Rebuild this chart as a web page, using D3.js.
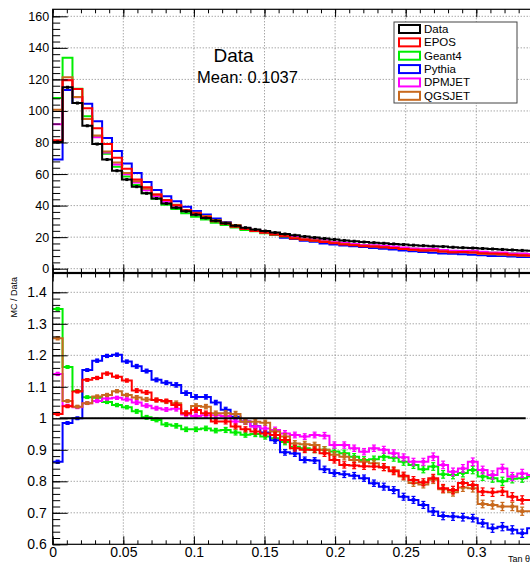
<!DOCTYPE html>
<html>
<head>
<meta charset="utf-8">
<script src="https://cdn.jsdelivr.net/npm/d3@7"></script>
<style>
  body { margin: 0; background: #fff; overflow: hidden; }
  svg { display: block; font-family: "Liberation Sans", Arial, Helvetica, sans-serif; }
</style>
</head>
<body>
<div id="chart"></div>
<script>
"use strict"

// binning of the histograms: 50 bins of 0.007 between 0 and 0.35
var nBins = 50;
var binWidth = 0.007;

// axis ticks and labels
var xTicks = [0, 0.05, 0.1, 0.15, 0.2, 0.25, 0.3, 0.35];
var xTickLabels = ["0", "0.05", "0.1", "0.15", "0.2", "0.25", "0.3", ""];
var topTicks = [0, 20, 40, 60, 80, 100, 120, 140, 160];
var ratioTicks = [0.6, 0.7, 0.8, 0.9, 1.0, 1.1, 1.2, 1.3, 1.4];
var ratioTickLabels = ["0.6", "0.7", "0.8", "0.9", "1", "1.1", "1.2", "1.3", "1.4"];

// legend
var seriesNames = ["Data", "EPOS", "Geant4", "Pythia", "DPMJET", "QGSJET"];
var seriesColors = ["#000000", "#ff0000", "#00ee00", "#0000ff", "#ff00ff", "#c8691e"];

// upper panel: entries per bin
var dataCounts = [80.3, 115, 105, 90.6, 79, 69.2, 62.1, 56.5, 52, 47.8, 44.5, 41.3, 38.7, 36.4, 34.2, 32.2, 30.4, 28.8, 27.3, 26,
    24.9, 23.9, 22.9, 22, 21.2, 20.4, 19.7, 19.1, 18.5, 17.9, 17.4, 16.9, 16.5, 16.1, 15.7, 15.3, 14.9, 14.6, 14.3, 14,
    13.6, 13.3, 13.1, 12.8, 12.5, 12.2, 11.9, 11.6, 11.3, 11.1];
var eposCounts = [81.4, 119.4, 113.9, 101.7, 89.1, 79.0, 70.3, 63.3, 56.6, 51.7, 47.1, 43.6, 40.3, 37.0, 35.1, 32.7, 30.1, 28.5, 26.6, 25.1,
    23.9, 22.8, 21.7, 20.5, 19.2, 18.4, 17.7, 17.0, 16.1, 15.3, 14.8, 14.3, 14.0, 13.6, 13.1, 12.5, 12.0, 11.6, 11.6, 10.9,
    10.5, 10.6, 10.3, 9.8, 9.6, 9.4, 8.9, 8.6, 8.4, 8.2];
var geantCounts = [108.2, 133.7, 114.1, 96.7, 84.1, 72.8, 64.7, 58.5, 53.1, 47.9, 44.3, 40.5, 37.8, 35.1, 33.0, 31.2, 29.2, 27.7, 26.1, 24.6,
    23.7, 22.5, 21.5, 20.4, 19.3, 18.5, 17.7, 17.2, 16.6, 15.9, 15.3, 14.7, 14.4, 14.1, 13.7, 13.2, 12.7, 12.2, 12.1, 11.5,
    11.2, 11.0, 11.0, 10.4, 10.1, 9.8, 9.6, 9.4, 9.2, 9.0];
var pythiaCounts = [69.2, 113.3, 105.0, 104.5, 93.5, 82.9, 74.6, 66.7, 60.6, 55.0, 49.9, 46.0, 42.8, 39.3, 36.5, 34.4, 31.9, 29.6, 27.4, 25.7,
    24.3, 22.8, 21.3, 19.6, 18.8, 17.7, 17.1, 16.0, 15.3, 14.7, 14.2, 13.7, 13.1, 12.6, 12.1, 11.5, 11.0, 10.6, 10.1, 9.7,
    9.4, 9.1, 8.9, 8.5, 8.1, 8.0, 7.7, 7.4, 7.4, 7.2];
var dpmjetCounts = [91.6, 119.6, 108.7, 94.9, 83.3, 73.6, 66.1, 59.9, 54.6, 49.7, 45.9, 42.5, 39.9, 36.8, 34.4, 32.5, 30.7, 29.0, 27.0, 25.7,
    24.3, 23.1, 22.1, 20.9, 20.1, 19.2, 18.7, 18.0, 16.9, 16.4, 15.7, 15.1, 14.9, 14.5, 14.0, 13.4, 12.8, 12.6, 12.6, 11.9,
    11.3, 11.2, 11.3, 10.7, 10.3, 10.3, 9.7, 9.6, 9.3, 9.1];
var qgsjetCounts = [100.7, 121.3, 108.9, 94.9, 84.5, 74.3, 67.4, 60.7, 55.4, 50.7, 47.1, 43.5, 40.6, 37.0, 35.5, 33.4, 30.9, 29.3, 27.7, 25.7,
    24.6, 23.6, 21.9, 20.7, 19.5, 18.7, 18.0, 17.2, 16.4, 15.7, 15.1, 14.6, 14.1, 13.6, 13.1, 12.5, 11.8, 11.5, 11.5, 10.9,
    10.4, 10.4, 10.2, 9.3, 9.1, 8.8, 8.6, 8.2, 8.0, 7.9];

// lower panel: MC / Data per bin
var eposRatio = [1.014, 1.038, 1.085, 1.122, 1.128, 1.142, 1.132, 1.12, 1.088, 1.082, 1.058, 1.055, 1.042, 1.016, 1.026, 1.016, 0.99, 0.99, 0.974, 0.965,
    0.958, 0.952, 0.947, 0.931, 0.905, 0.9, 0.9, 0.889, 0.868, 0.852, 0.85, 0.848, 0.847, 0.845, 0.832, 0.818, 0.804, 0.797, 0.81, 0.778,
    0.772, 0.795, 0.788, 0.767, 0.765, 0.768, 0.751, 0.741, 0.741, 0.74];
var geantRatio = [1.347, 1.163, 1.087, 1.067, 1.065, 1.052, 1.042, 1.035, 1.022, 1.003, 0.995, 0.98, 0.976, 0.965, 0.965, 0.968, 0.961, 0.963, 0.955, 0.948,
    0.95, 0.942, 0.937, 0.925, 0.91, 0.905, 0.9, 0.9, 0.895, 0.889, 0.878, 0.868, 0.87, 0.878, 0.875, 0.862, 0.852, 0.838, 0.847, 0.822,
    0.82, 0.826, 0.836, 0.815, 0.81, 0.8, 0.808, 0.81, 0.815, 0.815];
var pythiaRatio = [0.862, 0.985, 1.0, 1.153, 1.183, 1.198, 1.202, 1.18, 1.165, 1.15, 1.122, 1.113, 1.106, 1.08, 1.068, 1.068, 1.05, 1.027, 1.005, 0.99,
    0.975, 0.955, 0.93, 0.892, 0.888, 0.868, 0.866, 0.838, 0.826, 0.822, 0.818, 0.81, 0.794, 0.783, 0.772, 0.751, 0.741, 0.725, 0.704, 0.69,
    0.688, 0.686, 0.683, 0.667, 0.651, 0.656, 0.646, 0.635, 0.651, 0.65];
var dpmjetRatio = [1.141, 1.04, 1.035, 1.048, 1.055, 1.063, 1.065, 1.06, 1.05, 1.04, 1.032, 1.028, 1.03, 1.012, 1.007, 1.01, 1.01, 1.007, 0.99, 0.99,
    0.974, 0.968, 0.963, 0.952, 0.947, 0.942, 0.947, 0.945, 0.915, 0.915, 0.905, 0.894, 0.905, 0.9, 0.889, 0.876, 0.862, 0.862, 0.878, 0.852,
    0.83, 0.841, 0.862, 0.836, 0.82, 0.841, 0.815, 0.825, 0.82, 0.82];
var qgsjetRatio = [1.254, 1.055, 1.037, 1.048, 1.069, 1.074, 1.086, 1.074, 1.066, 1.06, 1.058, 1.053, 1.048, 1.016, 1.039, 1.037, 1.016, 1.016, 1.014, 0.989,
    0.989, 0.986, 0.958, 0.942, 0.92, 0.918, 0.915, 0.9, 0.884, 0.878, 0.868, 0.862, 0.857, 0.845, 0.835, 0.815, 0.795, 0.79, 0.805, 0.775,
    0.765, 0.78, 0.778, 0.728, 0.725, 0.72, 0.72, 0.705, 0.705, 0.71];
// statistical error on the ratio, per bin
var ratioErr = [0.005, 0.004, 0.004, 0.004, 0.005, 0.005, 0.005, 0.005, 0.006, 0.006, 0.006, 0.006, 0.007, 0.007, 0.007, 0.007, 0.007, 0.008, 0.008, 0.008,
    0.008, 0.008, 0.009, 0.009, 0.009, 0.009, 0.009, 0.01, 0.01, 0.01, 0.01, 0.01, 0.01, 0.011, 0.011, 0.011, 0.011, 0.011, 0.012, 0.012,
    0.012, 0.012, 0.012, 0.012, 0.013, 0.013, 0.013, 0.013, 0.013, 0.013];

var dataMean = "0.1037";

// set up the canvas
var width = 530;
var height = 564;
var svg = d3.select("#chart")
    .append("svg")
    .attr("width", width)
    .attr("height", height);
svg.append("rect").attr("width", width).attr("height", height).attr("fill", "#fff");

// scales (frame runs past the right edge of the picture)
var x = d3.scaleLinear().domain([0, 0.35]).range([52.7, 546.9]);
var yTop = d3.scaleLinear().domain([0, 160]).range([268.7, 16.3]);
var yRatio = d3.scaleLinear().domain([0.6, 1.4]).range([544.3, 292.3]);
var topFrame = {y0: 9.3, y1: 272.5};
var ratioFrame = {y0: 273.5, y1: 544.3};

var gridColor = "#808080";

function drawGrid(yScale, yValues, frame) {
    var g = svg.append("g");
    g.selectAll("line.gx")
        .data(xTicks.slice(1))
        .enter()
        .append("line")
        .attr("x1", function(d) { return x(d); })
        .attr("x2", function(d) { return x(d); })
        .attr("y1", frame.y0)
        .attr("y2", frame.y1)
        .attr("stroke", gridColor)
        .attr("stroke-dasharray", "1,2");
    g.selectAll("line.gy")
        .data(yValues)
        .enter()
        .append("line")
        .attr("x1", x(0))
        .attr("x2", x(0.35))
        .attr("y1", function(d) { return yScale(d); })
        .attr("y2", function(d) { return yScale(d); })
        .attr("stroke", gridColor)
        .attr("stroke-dasharray", "1,2");
}

// histogram outline as a step line
function stepPath(yScale, values) {
    var pts = values.map(function(v, i) { return [i * binWidth, v]; });
    pts.push([nBins * binWidth, values[nBins - 1]]);
    return d3.line()
        .x(function(p) { return x(p[0]); })
        .y(function(p) { return yScale(p[1]); })
        .curve(d3.curveStepAfter)(pts);
}

function drawFrame(yScale, frame, majorY, minorY, labels, fontSize, pad) {
    var g = svg.append("g").attr("fill", "none");
    // x ticks at bottom (pointing up) and top (pointing down)
    var minorX = d3.range(0, 36).map(function(i) { return i * 0.01; });
    g.append("g")
        .attr("transform", "translate(0," + frame.y1 + ")")
        .call(d3.axisBottom(x).tickValues(minorX).tickSize(-4).tickFormat(""));
    g.append("g")
        .attr("transform", "translate(0," + frame.y1 + ")")
        .call(d3.axisBottom(x).tickValues(xTicks).tickSize(-8).tickFormat(""));
    g.append("g")
        .attr("transform", "translate(0," + frame.y0 + ")")
        .call(d3.axisTop(x).tickValues(minorX).tickSize(-4).tickFormat(""));
    g.append("g")
        .attr("transform", "translate(0," + frame.y0 + ")")
        .call(d3.axisTop(x).tickValues(xTicks).tickSize(-8).tickFormat(""));
    // y ticks on the left, pointing into the frame
    g.append("g")
        .attr("transform", "translate(" + x(0) + ",0)")
        .call(d3.axisLeft(yScale).tickValues(minorY).tickSize(-7.5).tickFormat(""));
    g.append("g")
        .attr("transform", "translate(" + x(0) + ",0)")
        .call(d3.axisLeft(yScale).tickValues(majorY).tickSize(-15).tickPadding(pad)
            .tickFormat(function(d, i) { return labels[i]; }));
    g.selectAll(".domain").remove();
    g.selectAll("line").attr("stroke", "#000").attr("stroke-width", 1);
    g.selectAll("text")
        .attr("font-size", fontSize)
        .attr("font-family", "Liberation Sans, Arial, sans-serif")
        .attr("fill", "#000");
    // frame box
    svg.append("rect")
        .attr("x", x(0))
        .attr("y", frame.y0)
        .attr("width", x(0.35) - x(0))
        .attr("height", frame.y1 - frame.y0)
        .attr("fill", "none")
        .attr("stroke", "#000")
        .attr("stroke-width", 1.2);
}

// ---------------- upper panel ----------------
drawGrid(yTop, topTicks, topFrame);

var topSeries = [
    {name: "Pythia", values: pythiaCounts, color: seriesColors[3]},
    {name: "Geant4", values: geantCounts, color: seriesColors[2]},
    {name: "DPMJET", values: dpmjetCounts, color: seriesColors[4]},
    {name: "QGSJET", values: qgsjetCounts, color: seriesColors[5]},
    {name: "EPOS", values: eposCounts, color: seriesColors[1]},
    {name: "Data", values: dataCounts, color: seriesColors[0]}
];
svg.append("g")
    .selectAll("path")
    .data(topSeries)
    .enter()
    .append("path")
    .attr("d", function(s) { return stepPath(yTop, s.values); })
    .attr("fill", "none")
    .attr("stroke", function(s) { return s.color; })
    .attr("stroke-width", 2);

// small markers on the data points
svg.append("g")
    .selectAll("rect")
    .data(dataCounts)
    .enter()
    .append("rect")
    .attr("x", function(d, i) { return x((i + 0.5) * binWidth) - 1.5; })
    .attr("y", function(d) { return yTop(d) - 1.5; })
    .attr("width", 3)
    .attr("height", 3)
    .attr("fill", "#000");

drawFrame(yTop, topFrame, topTicks, d3.range(0, 161, 4), topTicks.map(String), 12.5, 3.5);

// stat text
svg.append("text")
    .attr("x", 233.5)
    .attr("y", 62)
    .attr("text-anchor", "middle")
    .attr("font-size", 19)
    .text("Data");
svg.append("text")
    .attr("x", 247.5)
    .attr("y", 83)
    .attr("text-anchor", "middle")
    .attr("font-size", 16.5)
    .text("Mean: " + dataMean);

// legend
var legend = svg.append("g");
legend.append("rect")
    .attr("x", 394)
    .attr("y", 22)
    .attr("width", 123)
    .attr("height", 81)
    .attr("fill", "#fff")
    .attr("stroke", "#444")
    .attr("stroke-width", 1);
var legendRows = legend.selectAll("g")
    .data(seriesNames)
    .enter()
    .append("g")
    .attr("transform", function(d, i) { return "translate(0," + (29 + i * 13.36) + ")"; });
legendRows.append("rect")
    .attr("x", 399)
    .attr("y", -4)
    .attr("width", 21)
    .attr("height", 8)
    .attr("fill", "#fff")
    .attr("stroke", function(d, i) { return seriesColors[i]; })
    .attr("stroke-width", 2);
legendRows.append("text")
    .attr("x", 424)
    .attr("y", 4)
    .attr("font-size", 11.5)
    .text(function(d) { return d; });

// ---------------- lower panel ----------------
drawGrid(yRatio, ratioTicks.slice(1), ratioFrame);

var ratioSeries = [
    {name: "Geant4", values: geantRatio, color: seriesColors[2]},
    {name: "Pythia", values: pythiaRatio, color: seriesColors[3]},
    {name: "DPMJET", values: dpmjetRatio, color: seriesColors[4]},
    {name: "QGSJET", values: qgsjetRatio, color: seriesColors[5]},
    {name: "EPOS", values: eposRatio, color: seriesColors[1]}
];

var ratioGroups = svg.append("g")
    .selectAll("g")
    .data(ratioSeries)
    .enter()
    .append("g")
    .attr("stroke", function(s) { return s.color; })
    .attr("fill", function(s) { return s.color; });

ratioGroups.append("path")
    .attr("d", function(s) { return stepPath(yRatio, s.values); })
    .attr("fill", "none")
    .attr("stroke-width", 2);

// error bars with caps and square markers
var points = ratioGroups.selectAll("g.pt")
    .data(function(s) { return s.values.map(function(v, i) { return {v: v, i: i}; }); })
    .enter()
    .append("g");
points.append("line")
    .attr("x1", function(p) { return x((p.i + 0.5) * binWidth); })
    .attr("x2", function(p) { return x((p.i + 0.5) * binWidth); })
    .attr("y1", function(p) { return yRatio(p.v - ratioErr[p.i]); })
    .attr("y2", function(p) { return yRatio(p.v + ratioErr[p.i]); })
    .attr("stroke-width", 1.5);
points.append("line")
    .attr("x1", function(p) { return x((p.i + 0.5) * binWidth) - 2; })
    .attr("x2", function(p) { return x((p.i + 0.5) * binWidth) + 2; })
    .attr("y1", function(p) { return yRatio(p.v - ratioErr[p.i]); })
    .attr("y2", function(p) { return yRatio(p.v - ratioErr[p.i]); })
    .attr("stroke-width", 1.2);
points.append("line")
    .attr("x1", function(p) { return x((p.i + 0.5) * binWidth) - 2; })
    .attr("x2", function(p) { return x((p.i + 0.5) * binWidth) + 2; })
    .attr("y1", function(p) { return yRatio(p.v + ratioErr[p.i]); })
    .attr("y2", function(p) { return yRatio(p.v + ratioErr[p.i]); })
    .attr("stroke-width", 1.2);
points.append("rect")
    .attr("x", function(p) { return x((p.i + 0.5) * binWidth) - 1.8; })
    .attr("y", function(p) { return yRatio(p.v) - 1.8; })
    .attr("width", 3.6)
    .attr("height", 3.6)
    .attr("stroke", "none");

// unity line
svg.append("line")
    .attr("x1", x(0.005))
    .attr("x2", x(0.335))
    .attr("y1", yRatio(1))
    .attr("y2", yRatio(1))
    .attr("stroke", "#000")
    .attr("stroke-width", 2);

drawFrame(yRatio, ratioFrame, ratioTicks, d3.range(30, 71, 1).map(function(i) { return i * 0.02; }),
    ratioTickLabels, 14, 6);

// x labels below the lower panel
var xLab = svg.append("g")
    .attr("transform", "translate(0," + ratioFrame.y1 + ")")
    .call(d3.axisBottom(x).tickValues(xTicks).tickSize(0).tickPadding(3)
        .tickFormat(function(d, i) { return xTickLabels[i]; }));
xLab.select(".domain").remove();
xLab.selectAll("text")
    .attr("font-size", 14)
    .attr("font-family", "Liberation Sans, Arial, sans-serif")
    .attr("fill", "#000");

// axis titles
svg.append("text")
    .attr("transform", "translate(17,277) rotate(-90)")
    .attr("text-anchor", "end")
    .attr("font-size", 9)
    .text("MC / Data");
svg.append("text")
    .attr("x", 508)
    .attr("y", 562)
    .attr("font-size", 9)
    .text("Tan \u03b8");
</script>
</body>
</html>
